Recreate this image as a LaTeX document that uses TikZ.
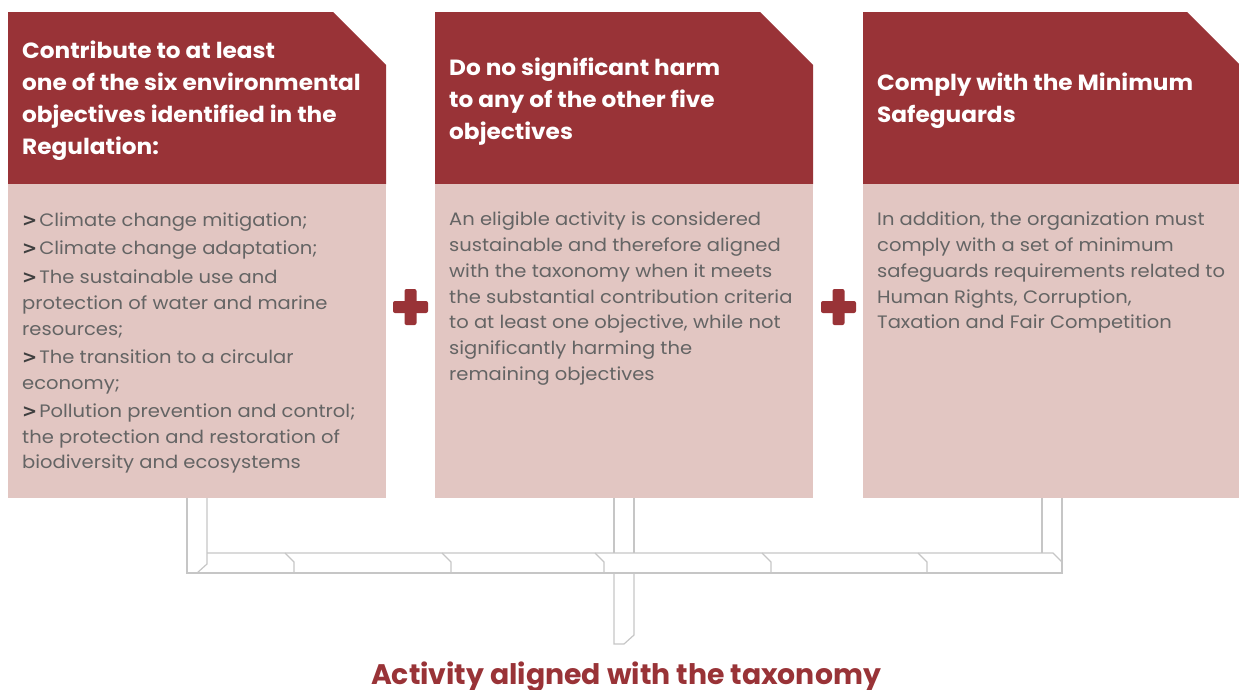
\documentclass[tikz,border=0pt]{standalone}
\usepackage{fontspec}
\setmainfont{Poppins}
\newfontfamily\bodyf{Poppins}[FakeStretch=1.085]
\newfontfamily\headf{Poppins}[FakeStretch=1.055]
\newfontfamily\gtf{DejaVu Sans}
\definecolor{hred}{HTML}{993337}
\definecolor{bpink}{HTML}{E2C6C2}
\definecolor{tgrey}{HTML}{646464}
\definecolor{bgrey}{HTML}{3F3F3F}
\definecolor{pipec}{HTML}{C6C6C6}
\newcommand{\gt}{{\gtf\bfseries\color{bgrey}>}\kern2pt}
\tikzset{
  headfill/.style={fill=hred, draw=none},
  bodyfill/.style={fill=bpink, draw=none},
  headtext/.style={anchor=west, inner sep=0pt, align=left, text=white,
    font=\headf\fontsize{22}{32}\selectfont\bfseries},
  bodytext/.style={anchor=north west, inner sep=0pt, align=left, text=tgrey,
    font=\bodyf\fontsize{18}{25.7}\selectfont},
  pipeline/.style={draw=pipec, line width=1.2pt, line join=miter},
  plusbar/.style={fill=hred, rounded corners=2pt},
  titletext/.style={anchor=base, inner sep=0pt, text=hred,
    font=\fontsize{28.3}{34}\selectfont\bfseries}
}
\begin{document}
\begin{tikzpicture}[x=1pt,y=-1pt]
\useasboundingbox (0,0) rectangle (1239,689);
% boxes
\path[headfill] (8,12) -- (333,12) -- (386,65) -- (386,184) -- (8,184) -- cycle;
\path[bodyfill] (8,184) rectangle (386,498);
\path[headfill] (435,12) -- (760,12) -- (813,65) -- (813,184) -- (435,184) -- cycle;
\path[bodyfill] (435,184) rectangle (813,498);
\path[headfill] (863,12) -- (1187,12) -- (1239,64) -- (1239,184) -- (863,184) -- cycle;
\path[bodyfill] (863,184) rectangle (1239,498);
% header texts
\node[headtext] (h1) at (22,101) {Contribute to at least\\one of the six environmental\\objectives identified in the\\Regulation:};
\node[headtext] (h2) at (449,102) {Do no significant harm\\to any of the other five\\objectives};
\node[headtext] (h3) at (877,101) {Comply with the Minimum\\Safeguards};
% body texts
\node[bodytext] (b1) at (22,213) {\gt Climate change mitigation;\\[1.5pt]
\gt Climate change adaptation;\\[4pt]
\gt The sustainable use and\\protection of water and marine\\resources;\\[2.5pt]
\gt The transition to a circular\\economy;\\[2.5pt]
\gt Pollution prevention and control;\\the protection and restoration of\\biodiversity and ecosystems};
\node[bodytext] (b2) at (449,212) {An eligible activity is considered\\sustainable and therefore aligned\\with the taxonomy when it meets\\the substantial contribution criteria\\to at least one objective, while not\\significantly harming the\\remaining objectives};
\node[bodytext] (b3) at (877,212) {In addition, the organization must\\comply with a set of minimum\\safeguards requirements related to\\Human Rights, Corruption,\\Taxation and Fair Competition};
% plus signs
\coordinate (p1) at (410.5,307);
\coordinate (p2) at (838.5,307);
\foreach \p in {p1,p2}{
  \path[plusbar] ([shift={(-17.5,-6)}]\p) rectangle ([shift={(17.5,6)}]\p);
  \path[plusbar] ([shift={(-6,-18)}]\p) rectangle ([shift={(6,18)}]\p);
}
% pipes
\draw[pipeline] (187,498) -- (187,573) -- (1062,573) -- (1062,498);
\draw[pipeline] (207,498) -- (207,564) -- (197,573);
\draw[pipeline] (207,553) -- (1053,553) -- (1062,562);
\draw[pipeline] (1042,498) -- (1042,553);
\foreach \jx in {285,442,595,762,918}{
  \draw[pipeline] (\jx,553) -- (\jx+9,562) -- (\jx+9,573);
}
\draw[pipeline] (614,498) -- (614,553);
\draw[pipeline] (634,498) -- (634,553);
\draw[pipeline] (614,573) -- (614,644) -- (624,644) -- (634,635) -- (634,573);
% title
\node[titletext] (t) at (626,684) {Activity aligned with the taxonomy};
\end{tikzpicture}
\end{document}
